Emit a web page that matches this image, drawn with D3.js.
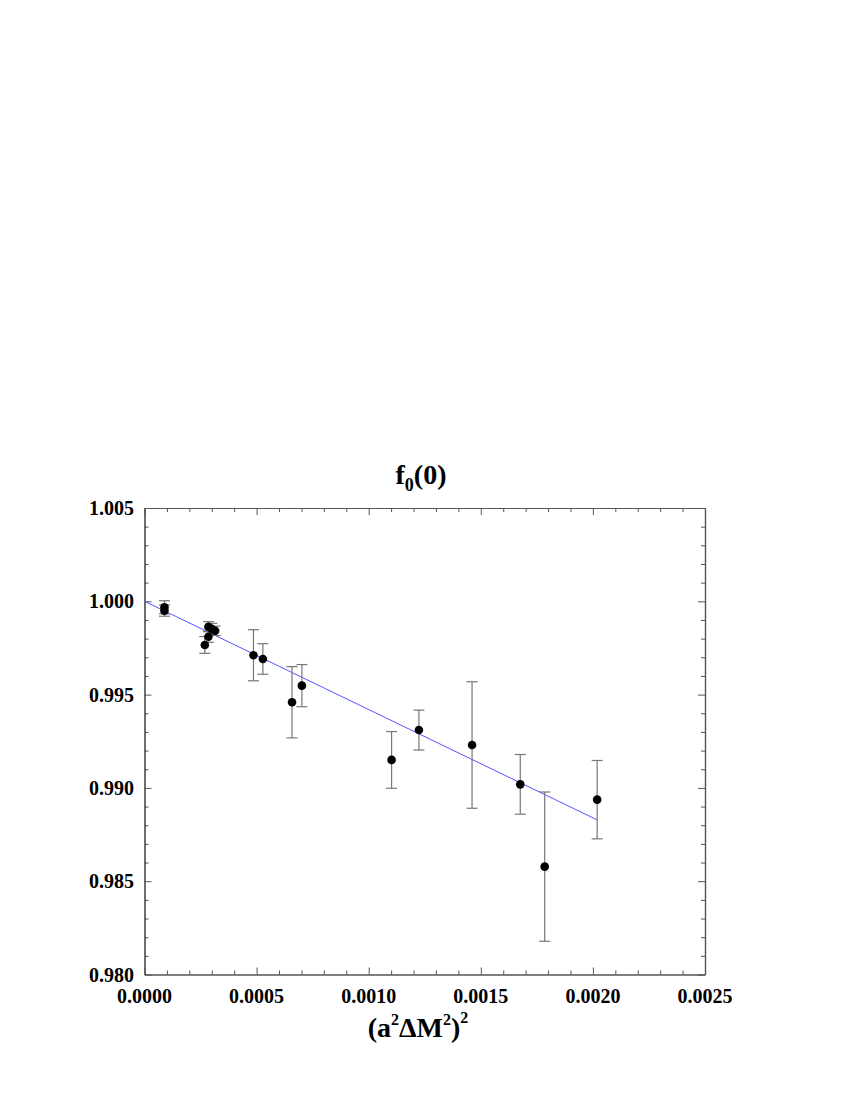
<!DOCTYPE html>
<html>
<head>
<meta charset="utf-8">
<script src="https://cdn.jsdelivr.net/npm/d3@7"></script>
<style>
  html, body { margin: 0; padding: 0; background: #fff; }
  svg { display: block; }
  text { font-family: "Liberation Serif", "Times New Roman", serif; font-weight: bold; fill: #000; }
</style>
</head>
<body>
<svg id="chart" width="850" height="1100"></svg>
<script>
// ---- data ----
const xValues = [0.000089, 0.000089, 0.000269, 0.000285, 0.000285, 0.000300, 0.000315,
                 0.000486, 0.000528, 0.000658, 0.000702, 0.001102, 0.001224, 0.001461,
                 0.001676, 0.001785, 0.002019];
const yValues = [0.99968, 0.99950, 0.99766, 0.99810, 0.99864, 0.99852, 0.99842,
                 0.99711, 0.99691, 0.99459, 0.99548, 0.99150, 0.99310, 0.99230,
                 0.99019, 0.98578, 0.98937];
const yErrors = [0.00035, 0.00030, 0.00045, 0.00030, 0.00027, 0.00030, 0.00025,
                 0.00137, 0.00082, 0.00191, 0.00113, 0.00152, 0.00107, 0.00339,
                 0.00160, 0.00400, 0.00210];
const fitX = [0.0, 0.00202];
const fitY = [1.0000, 0.98828];
const xTicks = [0.0000, 0.0005, 0.0010, 0.0015, 0.0020, 0.0025];
const xTickLabels = ["0.0000", "0.0005", "0.0010", "0.0015", "0.0020", "0.0025"];
const yTicks = [0.980, 0.985, 0.990, 0.995, 1.000, 1.005];
const yTickLabels = ["0.980", "0.985", "0.990", "0.995", "1.000", "1.005"];

// ---- layout ----
const L = 144.5, R = 705, T = 508, B = 974.5;
const svg = d3.select("#chart");
const x = d3.scaleLinear().domain([0, 0.0025]).range([L, R]);
const y = d3.scaleLinear().domain([0.980, 1.005]).range([B, T]);

const axisColor = "#555";
const majorLen = 7, minorLen = 4;
const xMinor = d3.range(0, 26).map(i => i * 0.0001);
const yMinor = d3.range(0, 26).map(i => 0.980 + i * 0.001);

function isMajorX(v) { return Math.abs(v / 0.0005 - Math.round(v / 0.0005)) < 1e-6; }
function isMajorY(v) { return Math.abs((v - 0.980) / 0.005 - Math.round((v - 0.980) / 0.005)) < 1e-6; }

function addAxis(gen, tx, ty) {
  const g = svg.append("g").attr("transform", `translate(${tx},${ty})`).call(gen);
  g.selectAll("text").remove();
  g.select(".domain").attr("stroke", axisColor).attr("stroke-width", 1.2);
  g.selectAll(".tick line").attr("stroke", axisColor).attr("stroke-width", 1);
  return g;
}
addAxis(d3.axisBottom(x).tickValues(xMinor.filter(v => !isMajorX(v))).tickSizeInner(-minorLen).tickSizeOuter(0), 0, B);
addAxis(d3.axisBottom(x).tickValues(xTicks).tickSizeInner(-majorLen).tickSizeOuter(0), 0, B);
addAxis(d3.axisTop(x).tickValues(xMinor.filter(v => !isMajorX(v))).tickSizeInner(-minorLen).tickSizeOuter(0), 0, T);
addAxis(d3.axisTop(x).tickValues(xTicks).tickSizeInner(-majorLen).tickSizeOuter(0), 0, T);
addAxis(d3.axisLeft(y).tickValues(yMinor.filter(v => !isMajorY(v))).tickSizeInner(-minorLen).tickSizeOuter(0), L, 0);
addAxis(d3.axisLeft(y).tickValues(yTicks).tickSizeInner(-majorLen).tickSizeOuter(0), L, 0);
addAxis(d3.axisRight(y).tickValues(yMinor.filter(v => !isMajorY(v))).tickSizeInner(-minorLen).tickSizeOuter(0), R, 0);
addAxis(d3.axisRight(y).tickValues(yTicks).tickSizeInner(-majorLen).tickSizeOuter(0), R, 0);

// tick labels
svg.append("g").selectAll("text").data(xTicks).join("text")
  .attr("x", d => x(d)).attr("y", 1003)
  .attr("text-anchor", "middle").attr("font-size", 20)
  .text((d, i) => xTickLabels[i]);
svg.append("g").selectAll("text").data(yTicks).join("text")
  .attr("x", 134).attr("y", d => y(d) + 7)
  .attr("text-anchor", "end").attr("font-size", 20)
  .text((d, i) => yTickLabels[i]);

// fit line
const line = d3.line().x(d => x(d[0])).y(d => y(d[1]));
svg.append("path").datum(fitX.map((v, i) => [v, fitY[i]]))
  .attr("d", line).attr("fill", "none").attr("stroke", "#5555ff").attr("stroke-width", 1);

// error bars
const pts = xValues.map((v, i) => ({ x: v, y: yValues[i], e: yErrors[i] }));
const eg = svg.append("g").attr("stroke", "#777").attr("stroke-width", 1.2).attr("fill", "none");
pts.forEach(p => {
  const cx = x(p.x), y1 = y(p.y + p.e), y2 = y(p.y - p.e);
  eg.append("line").attr("x1", cx).attr("x2", cx).attr("y1", y1).attr("y2", y2);
  eg.append("line").attr("x1", cx - 5.5).attr("x2", cx + 5.5).attr("y1", y1).attr("y2", y1);
  eg.append("line").attr("x1", cx - 5.5).attr("x2", cx + 5.5).attr("y1", y2).attr("y2", y2);
});

// points
svg.append("g").selectAll("circle").data(pts).join("circle")
  .attr("cx", d => x(d.x)).attr("cy", d => y(d.y)).attr("r", 4.3).attr("fill", "#000");

// title f0(0)
const title = svg.append("text").attr("x", 421).attr("y", 484).attr("text-anchor", "middle").attr("font-size", 28);
title.append("tspan").text("f");
title.append("tspan").attr("font-size", 18).attr("dy", 7).text("0");
title.append("tspan").attr("dy", -7).text("(0)");

// x axis title (a²ΔM²)²
const xt = svg.append("text").attr("x", 418).attr("y", 1037).attr("text-anchor", "middle").attr("font-size", 28);
xt.append("tspan").text("(a");
xt.append("tspan").attr("font-size", 16).attr("dy", -12).text("2");
xt.append("tspan").attr("dy", 12).text("\u0394M");
xt.append("tspan").attr("font-size", 16).attr("dy", -12).text("2");
xt.append("tspan").attr("dy", 12).text(")");
xt.append("tspan").attr("font-size", 16).attr("dy", -14).text("2");
</script>
</body>
</html>
